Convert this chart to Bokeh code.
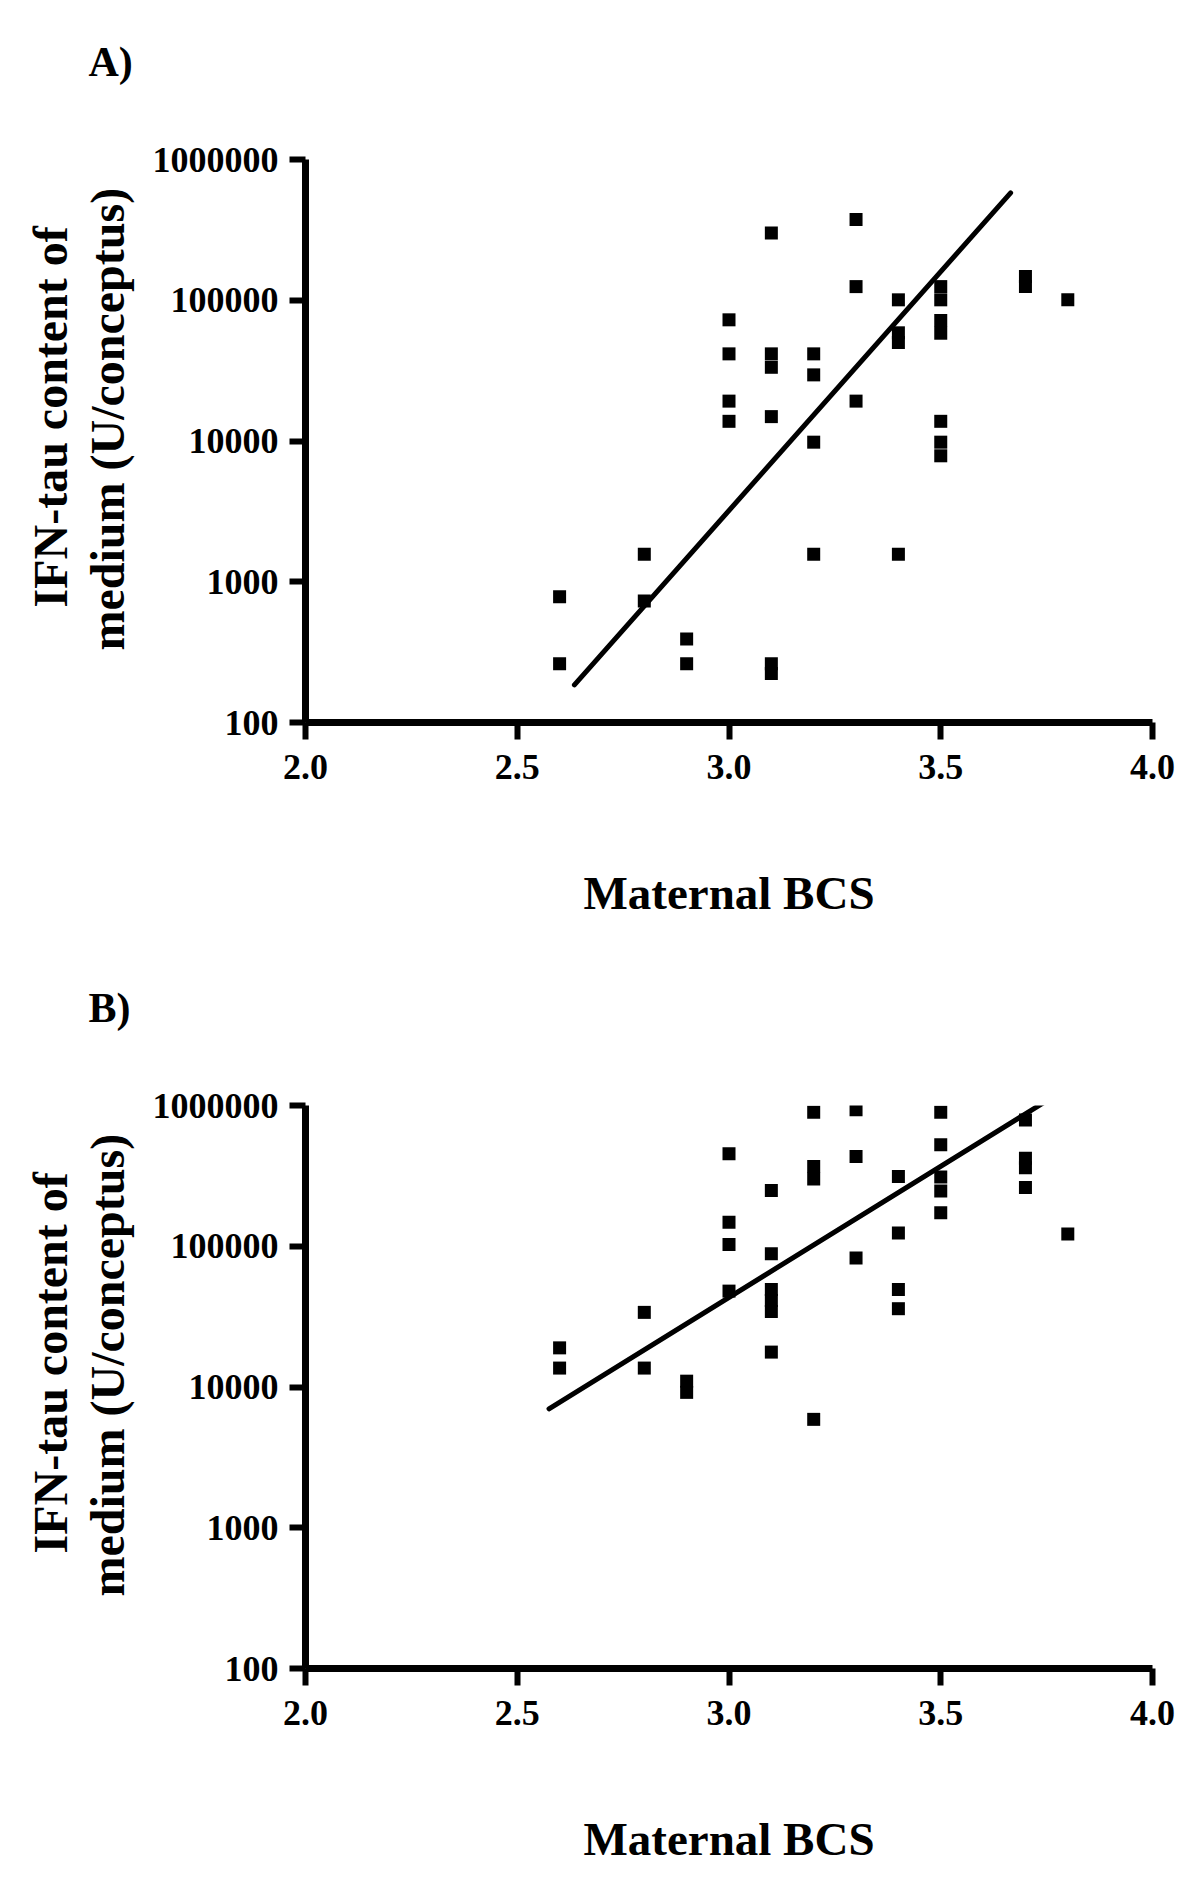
from bokeh.plotting import figure
from bokeh.layouts import column
from bokeh.models import Range1d, FixedTicker, NumeralTickFormatter, Title
from bokeh.embed import file_html
from bokeh.resources import INLINE

# ---------------- data ----------------
x_ticks = [2.0, 2.5, 3.0, 3.5, 4.0]
y_ticks = [100, 1000, 10000, 100000, 1000000]

a_bcs = [2.6, 2.6, 2.8, 2.8, 2.9, 2.9,
         3.0, 3.0, 3.0, 3.0,
         3.1, 3.1, 3.1, 3.1, 3.1, 3.1,
         3.2, 3.2, 3.2, 3.2,
         3.3, 3.3, 3.3,
         3.4, 3.4, 3.4, 3.4,
         3.5, 3.5, 3.5, 3.5, 3.5, 3.5, 3.5,
         3.7, 3.7, 3.8]
a_ifn = [781, 261, 1566, 729, 392, 261,
         72600, 41600, 19200, 13800,
         301000, 41600, 33400, 14900, 261, 223,
         41600, 29500, 9810, 1566,
         375000, 125000, 19200,
         100700, 58700, 50100, 1566,
         125000, 100700, 71800, 58300, 13800, 9810, 7850,
         147500, 125000, 100700]
a_fit_bcs = [2.635, 3.665]
a_fit_ifn = [185, 580000]

b_bcs = [2.6, 2.6, 2.8, 2.8, 2.9, 2.9,
         3.0, 3.0, 3.0, 3.0,
         3.1, 3.1, 3.1, 3.1, 3.1, 3.1,
         3.2, 3.2, 3.2, 3.2,
         3.3, 3.3, 3.3,
         3.4, 3.4, 3.4, 3.4,
         3.5, 3.5, 3.5, 3.5, 3.5,
         3.7, 3.7, 3.7, 3.7, 3.8]
b_ifn = [18970, 13630, 33900, 13630, 11000, 9160,
         454000, 148000, 103000, 48000,
         249000, 88500, 49300, 41200, 34400, 17700,
         897000, 369000, 300000, 5890,
         931000, 434000, 82400,
         313000, 124000, 49300, 36000,
         897000, 526000, 310000, 247000, 173000,
         789000, 422000, 361000, 261000, 122000]
b_fit_bcs = [2.575, 3.75]
b_fit_ifn = [7000, 1080000]

panel_labels = ["A)", "B)"]
x_title = "Maternal BCS"
y_title_lines = ["IFN-tau content of", "medium (U/conceptus)"]

FONT = "Liberation Serif"


def make_panel(bcs, ifn, fit_bcs, fit_ifn, tag, border_top, border_bottom):
    p = figure(
        x_range=Range1d(2.0, 4.0), y_range=Range1d(100, 1000000),
        y_axis_type="log",
        frame_width=847, frame_height=563,
        min_border_left=305, min_border_right=30,
        min_border_top=border_top, min_border_bottom=border_bottom,
        output_backend="svg", toolbar_location=None,
        background_fill_color="white", border_fill_color="white",
    )
    p.outline_line_color = None
    p.xgrid.visible = False
    p.ygrid.visible = False

    # panel tag "A)" / "B)" as the plot title, shifted left of the frame
    p.title.text = tag + "\n "
    p.title.align = "left"
    p.title.offset = -217
    p.title.standoff = 58
    p.title.text_font = FONT
    p.title.text_font_style = "bold"
    p.title.text_font_size = "42px"
    p.title.text_color = "black"

    p.xaxis.ticker = FixedTicker(ticks=x_ticks)
    p.xaxis.formatter = NumeralTickFormatter(format="0.0")
    p.yaxis.ticker = FixedTicker(ticks=y_ticks)
    p.yaxis.formatter = NumeralTickFormatter(format="0")

    for ax in (p.xaxis, p.yaxis):
        ax.axis_line_width = 7
        ax.axis_line_color = "black"
        ax.major_tick_line_width = 6
        ax.major_tick_line_color = "black"
        ax.major_tick_in = 0
        ax.minor_tick_line_color = None
        ax.major_label_text_font = FONT
        ax.major_label_text_font_style = "bold"
        ax.major_label_text_font_size = "36px"
        ax.major_label_text_color = "black"
        ax.axis_label_text_font = FONT
        ax.axis_label_text_font_style = "bold"
        ax.axis_label_text_color = "black"

    p.xaxis.major_tick_out = 17
    p.xaxis.major_label_standoff = 15
    p.xaxis.axis_label = x_title
    p.xaxis.axis_label_text_font_size = "47px"
    p.xaxis.axis_label_standoff = 85

    p.yaxis.major_tick_out = 16
    p.yaxis.major_label_standoff = 11

    # y-axis title, two lines left of the tick labels (inner line first)
    p.add_layout(Title(text=y_title_lines[1], align="left", offset=72, standoff=32,
                       text_font=FONT, text_font_style="bold",
                       text_font_size="48px", text_color="black"), "left")
    p.add_layout(Title(text=y_title_lines[0], align="left", offset=115, standoff=-28,
                       text_font=FONT, text_font_style="bold",
                       text_font_size="48px", text_color="black"), "left")

    p.line(fit_bcs, fit_ifn, line_color="black", line_width=5, line_cap="round")
    p.scatter(bcs, ifn, marker="square", size=13, fill_color="black",
              line_color="black", line_width=0)
    return p


pA = make_panel(a_bcs, a_ifn, a_fit_bcs, a_fit_ifn, panel_labels[0], 159, 219)
pB = make_panel(b_bcs, b_ifn, b_fit_bcs, b_fit_ifn, panel_labels[1], 164, 214)

layout = column(pA, pB, spacing=0)
open("out.html", "w").write(file_html(layout, INLINE))
